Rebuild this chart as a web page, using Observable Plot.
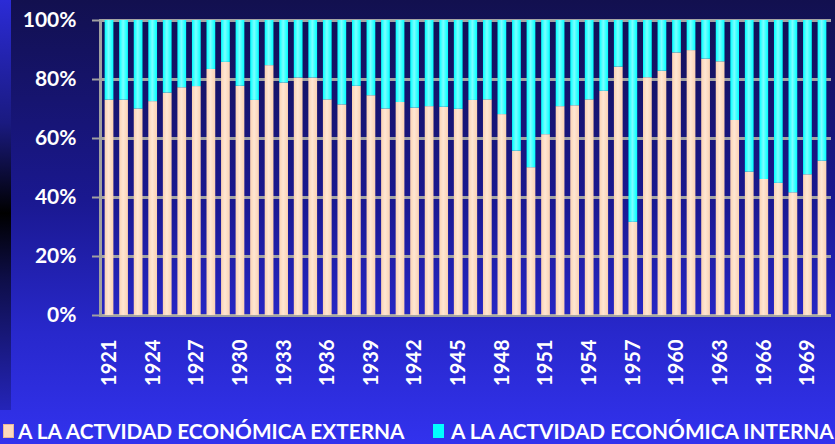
<!DOCTYPE html>
<html>
<head>
<meta charset="utf-8">
<script src="https://cdn.jsdelivr.net/npm/d3@7"></script>
<script src="https://cdn.jsdelivr.net/npm/@observablehq/plot@0.6"></script>
<style>
  html, body { margin: 0; padding: 0; background: #12104f; }
  #wrap { position: relative; width: 835px; height: 444px; overflow: hidden;
    background: linear-gradient(to bottom, #12104f 0%, #1a1890 45%, #2828cc 75%, #3232ee 100%);
    font-family: Lato, "Open Sans", sans-serif; }
  #strip { position: absolute; left: 0; top: 0; width: 11px; height: 410px;
    background: linear-gradient(to bottom, #2b2bd6 0%, #1a1a80 30%, #000000 52%, #0e0e48 68%, #2424b8 100%); }
  #chart { position: absolute; left: 0; top: 0; }
  .leg { position: absolute; top: 419px; color: #fff; font-weight: 700; font-size: 20.8px; line-height: 24px; white-space: nowrap; }
  .sw { position: absolute; top: 424px; width: 11px; height: 14px; }
</style>
</head>
<body>
<div id="wrap">
  <div id="strip"></div>
  <div id="chart"></div>
  <div class="sw" style="left:3px;background:#fdd9bd;border:1px solid #e8b898;box-sizing:border-box"></div>
  <div class="leg" id="l1" style="left:18px"></div>
  <div class="sw" style="left:433px;background:#00ffff"></div>
  <div class="leg" id="l2" style="left:451px"></div>
</div>
<script>
const years = [1921,1922,1923,1924,1925,1926,1927,1928,1929,1930,
  1931,1932,1933,1934,1935,1936,1937,1938,1939,1940,
  1941,1942,1943,1944,1945,1946,1947,1948,1949,1950,
  1951,1952,1953,1954,1955,1956,1957,1958,1959,1960,
  1961,1962,1963,1964,1965,1966,1967,1968,1969,1970];
// share (%) going to external economic activity
const externa = [73,73,70,72.5,75.4,77.2,77.6,83.4,85.8,77.7,
  72.9,84.7,78.8,80.5,80.5,73.1,71.4,77.7,74.5,70.0,
  72.2,70.3,70.8,70.6,69.9,72.9,73.1,68.1,55.7,50.1,
  61.3,70.8,71.1,73.1,76.0,84.2,31.6,80.6,82.8,89.0,
  89.8,86.9,86.0,66.1,48.6,46.1,44.8,41.6,47.7,52.3];
// share (%) going to internal economic activity
const interna = externa.map(v => 100 - v);
const seriesNames = ["A LA ACTVIDAD ECONÓMICA EXTERNA", "A LA ACTVIDAD ECONÓMICA INTERNA"];
const seriesColors = ["#fdd9bd", "#00ffff"];
const yTicks = [0, 20, 40, 60, 80, 100];
const xTickLabels = [1921,1924,1927,1930,1933,1936,1939,1942,1945,1948,1951,1954,1957,1960,1963,1966,1969];

const rows = [];
years.forEach((yr, i) => {
  rows.push({year: yr, serie: seriesNames[0], value: externa[i] / 100, order: 0});
  rows.push({year: yr, serie: seriesNames[1], value: interna[i] / 100, order: 1});
});

const chart = Plot.plot({
  width: 835,
  height: 405,
  marginLeft: 100,
  marginRight: 4,
  marginTop: 20,
  marginBottom: 90,
  style: {background: "transparent", color: "#fff", fontFamily: "Lato, 'Open Sans', sans-serif", overflow: "visible"},
  x: {type: "band", domain: years, paddingInner: 0.4, paddingOuter: 0.32, round: false},
  y: {domain: [0, 1]},
  color: {domain: seriesNames, range: ["url(#gExt)", "url(#gInt)"]},
  marks: [
    Plot.ruleY(yTicks.map(d => d / 100), {stroke: "#a4a4a4", strokeWidth: 3}),
    Plot.barY(rows, Plot.stackY({order: "order"}, {x: "year", y: "value", fill: "serie"})),
    Plot.frame({anchor: "left", stroke: "#a0a0a0", strokeWidth: 3}),
    Plot.axisY(yTicks.map(d => d / 100), {
      tickFormat: d => Math.round(d * 100) + "%",
      tickSize: 8, tickPadding: 16, stroke: "#a0a0a0", strokeWidth: 2,
      fontSize: 21, fontWeight: 700, fill: "#ffffff", label: null
    }),
    Plot.axisX(xTickLabels, {
      tickRotate: -90, tickSize: 0, tickPadding: 24,
      tickFormat: d => String(d),
      fontSize: 20, fontWeight: 700, fill: "#ffffff", label: null
    })
  ]
});
// horizontal shading of the bars (objectBoundingBox gradients)
const svgNS = "http://www.w3.org/2000/svg";
const defs = document.createElementNS(svgNS, "defs");
function grad(id, edge, center) {
  const g = document.createElementNS(svgNS, "linearGradient");
  g.setAttribute("id", id);
  g.setAttribute("x1", "0"); g.setAttribute("x2", "1"); g.setAttribute("y1", "0"); g.setAttribute("y2", "0");
  [[0, edge], [0.45, center], [1, edge]].forEach(([o, c]) => {
    const s = document.createElementNS(svgNS, "stop");
    s.setAttribute("offset", o); s.setAttribute("stop-color", c);
    g.appendChild(s);
  });
  defs.appendChild(g);
}
grad("gExt", "#fad2b3", "#ffe6d3");
grad("gInt", "#00ffff", "#7affff");
chart.insertBefore(defs, chart.firstChild);
document.getElementById("chart").appendChild(chart);
document.getElementById("l1").textContent = seriesNames[0];
document.getElementById("l2").textContent = seriesNames[1];
</script>
</body>
</html>
